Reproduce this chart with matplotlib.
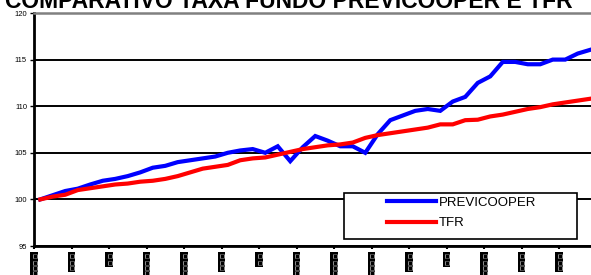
import matplotlib
matplotlib.use("Agg")
import matplotlib.pyplot as plt
from matplotlib.patches import Rectangle
import numpy as np

title = "COMPARATIVO TAXA FUNDO PREVICOOPER E TFR"
series_names = ["PREVICOOPER", "TFR"]

previcooper = [100.0, 100.45, 100.9, 101.15, 101.6, 102.0, 102.2, 102.5, 102.9, 103.4,
               103.6, 104.0, 104.2, 104.4, 104.6, 105.0, 105.25, 105.4, 105.0, 105.7,
               104.1, 105.6, 106.8, 106.3, 105.7, 105.7, 105.0, 107.0, 108.5, 109.0,
               109.5, 109.7, 109.5, 110.5, 111.0, 112.5, 113.2, 114.75, 114.75, 114.5,
               114.5, 115.0, 115.0, 115.65, 116.05]
tfr = [100.0, 100.3, 100.5, 101.0, 101.2, 101.4, 101.6, 101.7, 101.9, 102.0,
       102.2, 102.5, 102.9, 103.3, 103.5, 103.7, 104.2, 104.4, 104.5, 104.8,
       105.1, 105.4, 105.6, 105.8, 105.9, 106.1, 106.6, 106.9, 107.1, 107.3,
       107.5, 107.7, 108.05, 108.05, 108.5, 108.55, 108.9, 109.1, 109.4, 109.7,
       109.9, 110.2, 110.4, 110.6, 110.8]
x_labels = ["\u25a1 \u25a1\u25a1\u25a1", "\u25a1 \u25a1\u25a1", "\u25a1 \u25a1", "\u25a1 \u25a1\u25a1\u25a1",
            "\u25a1 \u25a1\u25a1\u25a1", "\u25a1 \u25a1\u25a1", "\u25a1 \u25a1", "\u25a1 \u25a1\u25a1\u25a1",
            "\u25a1 \u25a1\u25a1\u25a1", "\u25a1 \u25a1\u25a1\u25a1", "\u25a1 \u25a1\u25a1", "\u25a1 \u25a1",
            "\u25a1 \u25a1\u25a1\u25a1", "\u25a1 \u25a1\u25a1", "\u25a1 \u25a1\u25a1"]
y_ticks = [95, 100, 105, 110, 115, 120]

plt.rcParams['font.family'] = ['Liberation Sans', 'DejaVu Sans']

fig = plt.figure(figsize=(5.91, 2.75), dpi=100)
ax = fig.add_axes([34/591, 29/275, (591-34)/591, (246-13)/275])

xs = np.arange(len(previcooper))
ax.plot(xs, previcooper, color='#0000ff', lw=3, label=series_names[0], solid_joinstyle='miter', zorder=3)
ax.plot(xs, tfr, color='#ff0000', lw=3, label=series_names[1], solid_joinstyle='miter', zorder=3)

ax.set_xlim(-0.5, 44.06)
ax.set_ylim(95, 120)
ax.set_yticks(y_ticks)
ax.set_yticklabels([str(v) for v in y_ticks], fontsize=5.5)
ax.yaxis.grid(True, color='black', lw=1.4)
ax.set_axisbelow(True)

tick_pos = [-0.5 + 3 * j for j in range(len(x_labels))]
ax.set_xticks(tick_pos)
ax.set_xticklabels([])
for tp, lab in zip(tick_pos, x_labels):
    ax.text(tp, 94.2, lab, rotation=-90, ha='center', va='top', fontsize=3.9,
            color='white', family='DejaVu Sans', clip_on=False,
            bbox=dict(boxstyle='square,pad=0.2', fc='black', ec='none'))

for s in ['left', 'bottom']:
    ax.spines[s].set_linewidth(2)
    ax.spines[s].set_color('black')
ax.spines['right'].set_visible(False)
ax.spines['top'].set_color('#808080')
ax.spines['top'].set_linewidth(1.8)
ax.tick_params(axis='y', length=3, width=1, pad=2, direction='out')
ax.tick_params(axis='x', length=2, width=1.5, direction='out')

# legend frame
ax.add_patch(Rectangle((310/557, 7/233), 233/557, 46/233, transform=ax.transAxes,
                       fc='white', ec='black', lw=1.2, zorder=4))
leg = ax.legend(loc='center left', bbox_to_anchor=((387-34)/557, (246-213)/233),
                frameon=False, fontsize=9.5, handlelength=3.7,
                borderaxespad=0, borderpad=0, labelspacing=0.62, handletextpad=0.25)
leg.set_zorder(5)

fig.text(5/591, 1.0 - 8/275, title, fontsize=16.5, fontweight='bold', ha='left', va='baseline')

fig.savefig("out.png", dpi=100)
